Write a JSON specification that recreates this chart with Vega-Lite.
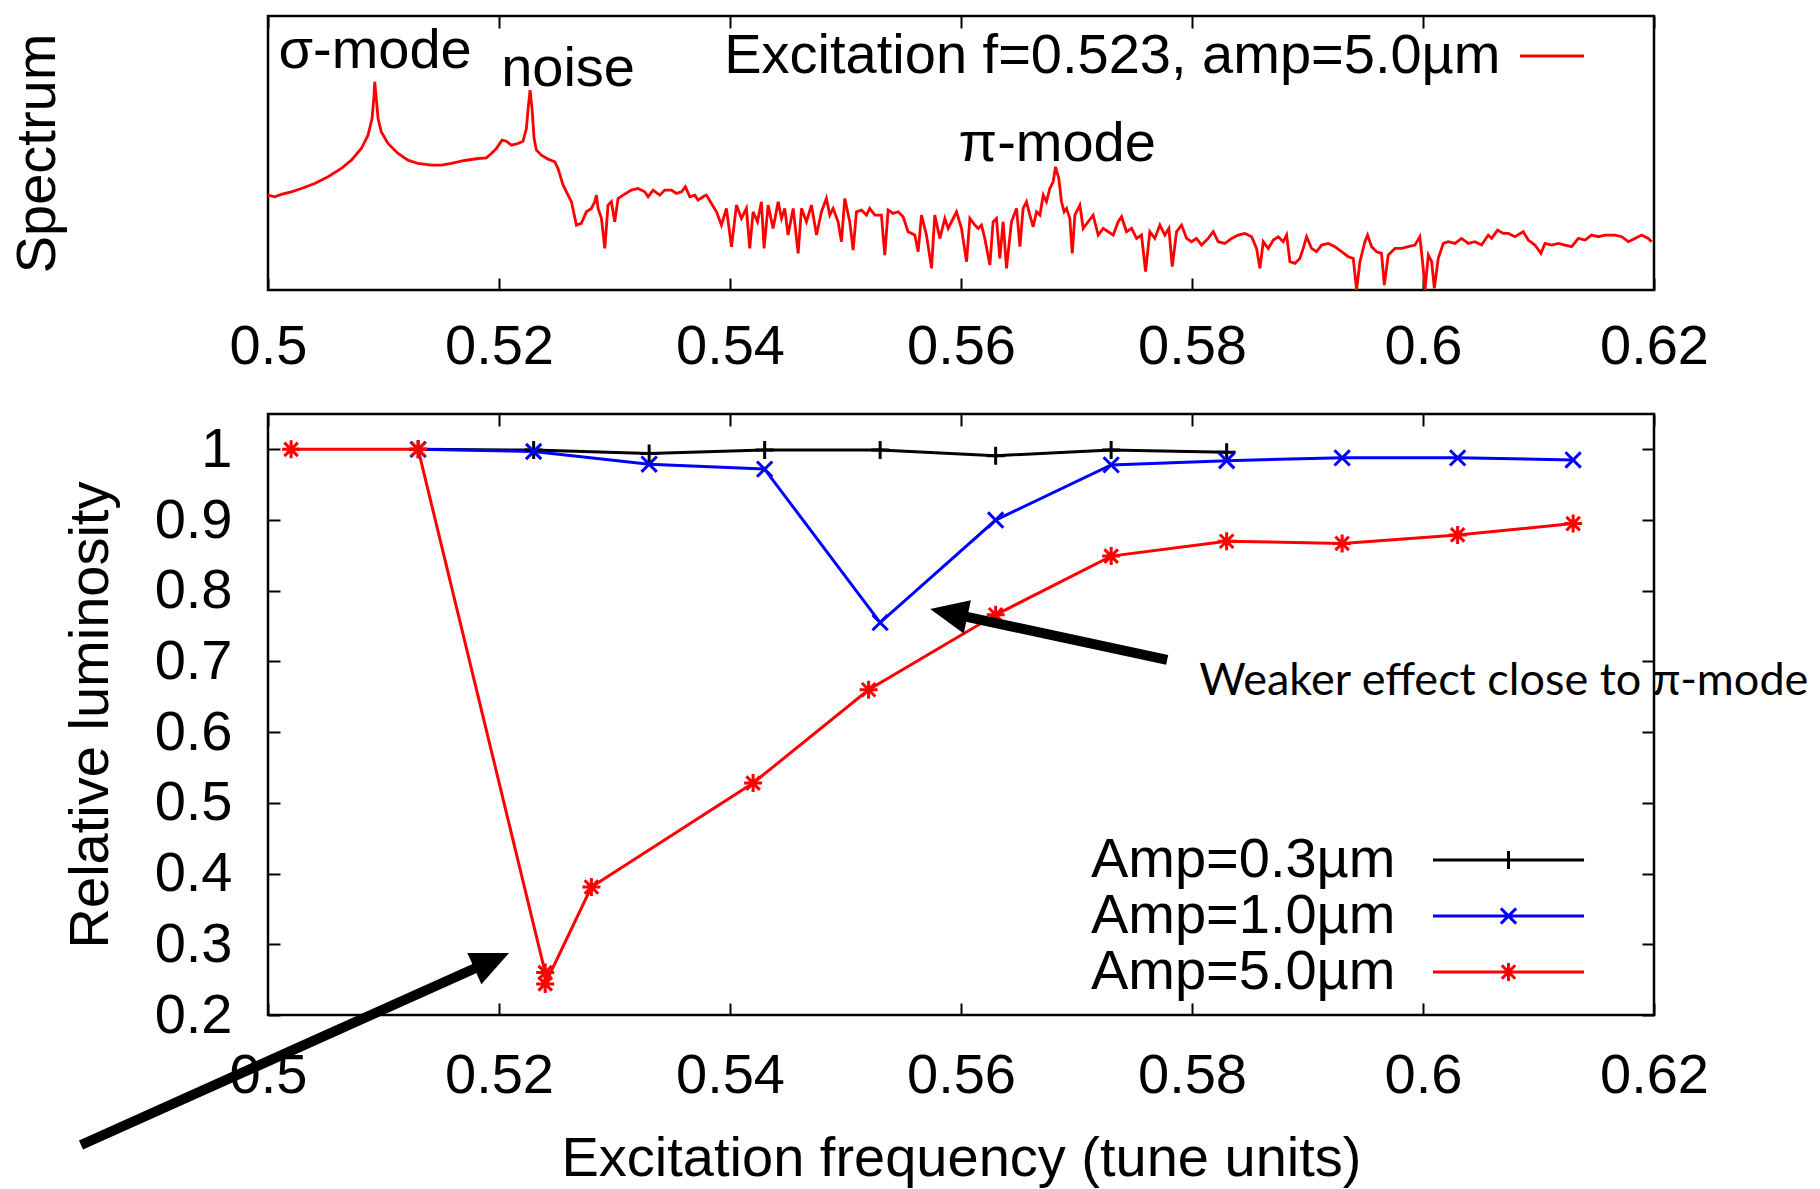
{
  "$schema": "https://vega.github.io/schema/vega-lite/v6.json",
  "background": "white",
  "padding": {"left": 7, "top": 13, "right": 5, "bottom": 5},
  "config": {
    "font": "Liberation Sans",
    "view": {"stroke": "#000", "strokeWidth": 2.5},
    "axis": {
      "labelFont": "Liberation Sans", "labelFontSize": 56, "labelColor": "#000",
      "titleFont": "Liberation Sans", "titleFontSize": 56, "titleColor": "#000", "titleFontWeight": "normal",
      "tickColor": "#000", "tickWidth": 2, "domain": false, "grid": false
    },
    "legend": {"labelFont": "Liberation Sans", "labelFontSize": 56, "labelColor": "#000"},
    "text": {"font": "Liberation Sans"}
  },
  "datasets": {
    "spectrum": [
      {"f":0.5,"p":285},{"f":0.50058,"p":280},{"f":0.50115,"p":287},{"f":0.50202,"p":295},{"f":0.50289,"p":305},{"f":0.50404,"p":320},{"f":0.5052,"p":340},{"f":0.50635,"p":365},{"f":0.50722,"p":390},{"f":0.50808,"p":425},{"f":0.50866,"p":465},{"f":0.50901,"p":515},{"f":0.50918,"p":585},{"f":0.50924,"p":625},{"f":0.50935,"p":585},{"f":0.50953,"p":515},{"f":0.50981,"p":475},{"f":0.51039,"p":440},{"f":0.51126,"p":410},{"f":0.51212,"p":390},{"f":0.51299,"p":380},{"f":0.51414,"p":375},{"f":0.51501,"p":375},{"f":0.51588,"p":380},{"f":0.51703,"p":389},{"f":0.51819,"p":395},{"f":0.51891,"p":397},{"f":0.51934,"p":410},{"f":0.51977,"p":425},{"f":0.52026,"p":450},{"f":0.52064,"p":447},{"f":0.52107,"p":435},{"f":0.52165,"p":440},{"f":0.52208,"p":447},{"f":0.52237,"p":485},{"f":0.52252,"p":545},{"f":0.52269,"p":600},{"f":0.52286,"p":545},{"f":0.52304,"p":455},{"f":0.52324,"p":420},{"f":0.52367,"p":405},{"f":0.52425,"p":393},{"f":0.52483,"p":385},{"f":0.52511,"p":365},{"f":0.52555,"p":315},{"f":0.52598,"p":285},{"f":0.52627,"p":265},{"f":0.5267,"p":195},{"f":0.52713,"p":200},{"f":0.52757,"p":235},{"f":0.528,"p":245},{"f":0.52829,"p":265},{"f":0.52843,"p":285},{"f":0.52858,"p":245},{"f":0.52887,"p":215},{"f":0.52916,"p":125},{"f":0.52944,"p":255},{"f":0.52973,"p":265},{"f":0.53002,"p":205},{"f":0.53031,"p":275},{"f":0.53074,"p":285},
      {"f":0.53146,"p":300},{"f":0.53204,"p":305},{"f":0.53262,"p":295},{"f":0.53291,"p":280},{"f":0.53334,"p":300},{"f":0.53392,"p":285},{"f":0.53435,"p":300},{"f":0.53493,"p":300},{"f":0.53536,"p":290},{"f":0.5358,"p":295},{"f":0.53614,"p":310},{"f":0.53652,"p":280},{"f":0.53695,"p":285},{"f":0.53724,"p":270},{"f":0.53767,"p":280},{"f":0.53796,"p":285},{"f":0.53839,"p":260},{"f":0.53883,"p":235},{"f":0.53926,"p":195},{"f":0.53969,"p":245},{"f":0.54013,"p":130},{"f":0.54056,"p":255},{"f":0.54099,"p":215},{"f":0.54142,"p":245},{"f":0.54171,"p":125},{"f":0.542,"p":235},{"f":0.54238,"p":205},{"f":0.54272,"p":265},{"f":0.54295,"p":125},{"f":0.5433,"p":255},{"f":0.54373,"p":185},{"f":0.54417,"p":265},{"f":0.54446,"p":215},{"f":0.54474,"p":245},{"f":0.54503,"p":165},{"f":0.54547,"p":245},{"f":0.5459,"p":110},{"f":0.54619,"p":245},{"f":0.54662,"p":205},{"f":0.54705,"p":255},{"f":0.54749,"p":165},{"f":0.54792,"p":235},{"f":0.54835,"p":275},{"f":0.54864,"p":225},{"f":0.54893,"p":245},{"f":0.54936,"p":205},{"f":0.54965,"p":145},{"f":0.54994,"p":275},{"f":0.55037,"p":205},{"f":0.55066,"p":120},{"f":0.55095,"p":235},{"f":0.55138,"p":240},{"f":0.55182,"p":225},{"f":0.5521,"p":245},{"f":0.55254,"p":225},{"f":0.55311,"p":225},{"f":0.5534,"p":105},{"f":0.55369,"p":240},{"f":0.55413,"p":230},{"f":0.55456,"p":235},{"f":0.55499,"p":220},{"f":0.55542,"p":175},{"f":0.556,"p":165},{"f":0.55629,"p":115},{"f":0.55658,"p":225},{"f":0.55701,"p":165},{"f":0.55745,"p":65},{"f":0.55773,"p":225},{"f":0.55817,"p":155},{"f":0.5586,"p":215},{"f":0.55889,"p":185},{"f":0.55918,"p":205},{"f":0.55961,"p":235},{"f":0.56004,"p":185},{"f":0.56048,"p":85},{"f":0.56077,"p":215},{"f":0.5612,"p":195},
      {"f":0.56149,"p":185},{"f":0.56177,"p":195},{"f":0.56206,"p":155},{"f":0.5625,"p":75},{"f":0.56278,"p":205},{"f":0.56307,"p":215},{"f":0.56336,"p":95},{"f":0.56365,"p":205},{"f":0.56394,"p":65},{"f":0.56437,"p":205},{"f":0.56481,"p":245},{"f":0.5651,"p":130},{"f":0.56538,"p":245},{"f":0.56567,"p":265},{"f":0.56596,"p":225},{"f":0.56625,"p":190},{"f":0.56654,"p":235},{"f":0.56683,"p":225},{"f":0.56712,"p":285},{"f":0.5674,"p":265},{"f":0.56769,"p":305},{"f":0.56798,"p":325},{"f":0.56818,"p":370},{"f":0.56847,"p":335},{"f":0.5687,"p":265},{"f":0.56893,"p":235},{"f":0.56914,"p":245},{"f":0.56942,"p":215},{"f":0.56963,"p":110},{"f":0.56986,"p":225},{"f":0.57029,"p":255},{"f":0.57058,"p":185},{"f":0.57101,"p":205},{"f":0.57144,"p":225},{"f":0.57188,"p":165},{"f":0.57231,"p":185},{"f":0.57274,"p":175},{"f":0.57318,"p":165},{"f":0.57361,"p":205},{"f":0.5739,"p":220},{"f":0.57433,"p":175},{"f":0.57477,"p":185},{"f":0.5752,"p":155},{"f":0.57563,"p":165},{"f":0.57598,"p":55},{"f":0.57635,"p":175},{"f":0.57678,"p":155},{"f":0.57722,"p":195},{"f":0.57765,"p":165},{"f":0.578,"p":185},{"f":0.57829,"p":70},{"f":0.57866,"p":175},{"f":0.5791,"p":195},{"f":0.57953,"p":155},{"f":0.57996,"p":145},{"f":0.58039,"p":155},{"f":0.58083,"p":135},{"f":0.5814,"p":155},{"f":0.58184,"p":175},{"f":0.58227,"p":145},{"f":0.58285,"p":140},{"f":0.58343,"p":155},{"f":0.584,"p":165},{"f":0.58458,"p":170},{"f":0.58516,"p":160},{"f":0.58559,"p":125},{"f":0.58588,"p":65},{"f":0.58617,"p":145},{"f":0.5866,"p":125},{"f":0.58704,"p":150},{"f":0.58747,"p":160},{"f":0.5879,"p":145},{"f":0.58819,"p":165},{"f":0.58848,"p":85},{"f":0.58891,"p":80},{"f":0.58934,"p":95},{"f":0.58963,"p":125},{"f":0.58992,"p":160},{"f":0.59035,"p":125},{"f":0.59078,"p":115},{"f":0.59122,"p":135},
      {"f":0.5918,"p":140},{"f":0.59237,"p":130},{"f":0.59295,"p":115},{"f":0.59353,"p":100},{"f":0.59396,"p":95},{"f":0.59425,"p":0},{"f":0.59454,"p":85},{"f":0.59497,"p":145},{"f":0.5952,"p":165},{"f":0.59555,"p":130},{"f":0.59598,"p":115},{"f":0.59641,"p":110},{"f":0.59665,"p":15},{"f":0.59699,"p":105},{"f":0.59757,"p":125},{"f":0.59815,"p":125},{"f":0.59872,"p":130},{"f":0.5993,"p":135},{"f":0.59973,"p":160},{"f":0.60002,"p":65},{"f":0.60017,"p":0},{"f":0.60046,"p":105},{"f":0.60075,"p":85},{"f":0.60098,"p":5},{"f":0.60132,"p":95},{"f":0.60176,"p":140},{"f":0.60219,"p":145},{"f":0.60277,"p":140},{"f":0.60334,"p":155},{"f":0.60392,"p":140},{"f":0.6045,"p":145},{"f":0.60507,"p":135},{"f":0.60565,"p":165},{"f":0.60594,"p":155},{"f":0.60646,"p":180},{"f":0.60695,"p":170},{"f":0.60739,"p":170},{"f":0.60796,"p":160},{"f":0.60868,"p":175},{"f":0.60912,"p":150},{"f":0.60969,"p":135},{"f":0.61021,"p":110},{"f":0.61056,"p":140},{"f":0.61114,"p":135},{"f":0.61172,"p":140},{"f":0.61229,"p":135},{"f":0.61287,"p":130},{"f":0.61345,"p":155},{"f":0.61403,"p":150},{"f":0.6146,"p":165},{"f":0.61518,"p":160},{"f":0.61576,"p":165},{"f":0.61662,"p":165},{"f":0.6172,"p":160},{"f":0.61778,"p":145},{"f":0.61835,"p":155},{"f":0.61893,"p":165},{"f":0.61951,"p":155},{"f":0.6198,"p":145}
    ],
    "toplabels": [
      {"label": "σ-mode", "f": 0.50927, "p": 667},
      {"label": "noise", "f": 0.52598, "p": 613},
      {"label": "π-mode", "f": 0.56833, "p": 387}
    ],
    "lum": [
      {"series": "Amp=0.3µm", "order": 1, "f": 0.513, "lum": 1.0},
      {"series": "Amp=0.3µm", "order": 2, "f": 0.523, "lum": 0.999},
      {"series": "Amp=0.3µm", "order": 3, "f": 0.533, "lum": 0.994},
      {"series": "Amp=0.3µm", "order": 4, "f": 0.543, "lum": 0.999},
      {"series": "Amp=0.3µm", "order": 5, "f": 0.553, "lum": 0.999},
      {"series": "Amp=0.3µm", "order": 6, "f": 0.563, "lum": 0.991},
      {"series": "Amp=0.3µm", "order": 7, "f": 0.573, "lum": 0.999},
      {"series": "Amp=0.3µm", "order": 8, "f": 0.583, "lum": 0.996},
      {"series": "Amp=1.0µm", "order": 1, "f": 0.513, "lum": 1.0},
      {"series": "Amp=1.0µm", "order": 2, "f": 0.523, "lum": 0.997},
      {"series": "Amp=1.0µm", "order": 3, "f": 0.533, "lum": 0.979},
      {"series": "Amp=1.0µm", "order": 4, "f": 0.543, "lum": 0.972},
      {"series": "Amp=1.0µm", "order": 5, "f": 0.553, "lum": 0.755},
      {"series": "Amp=1.0µm", "order": 6, "f": 0.563, "lum": 0.9},
      {"series": "Amp=1.0µm", "order": 7, "f": 0.573, "lum": 0.978},
      {"series": "Amp=1.0µm", "order": 8, "f": 0.583, "lum": 0.984},
      {"series": "Amp=1.0µm", "order": 9, "f": 0.593, "lum": 0.988},
      {"series": "Amp=1.0µm", "order": 10, "f": 0.603, "lum": 0.988},
      {"series": "Amp=1.0µm", "order": 11, "f": 0.613, "lum": 0.985},
      {"series": "Amp=5.0µm", "order": 1, "f": 0.502, "lum": 1.0},
      {"series": "Amp=5.0µm", "order": 2, "f": 0.513, "lum": 1.0},
      {"series": "Amp=5.0µm", "order": 3, "f": 0.524, "lum": 0.26},
      {"series": "Amp=5.0µm", "order": 4, "f": 0.524, "lum": 0.244},
      {"series": "Amp=5.0µm", "order": 5, "f": 0.528, "lum": 0.381},
      {"series": "Amp=5.0µm", "order": 6, "f": 0.542, "lum": 0.528},
      {"series": "Amp=5.0µm", "order": 7, "f": 0.552, "lum": 0.66},
      {"series": "Amp=5.0µm", "order": 8, "f": 0.563, "lum": 0.766},
      {"series": "Amp=5.0µm", "order": 9, "f": 0.573, "lum": 0.849},
      {"series": "Amp=5.0µm", "order": 10, "f": 0.583, "lum": 0.87},
      {"series": "Amp=5.0µm", "order": 11, "f": 0.593, "lum": 0.867},
      {"series": "Amp=5.0µm", "order": 12, "f": 0.603, "lum": 0.879},
      {"series": "Amp=5.0µm", "order": 13, "f": 0.613, "lum": 0.895}
    ],
    "arrows": [
      {"x0": 0.57785, "y0": 0.7021, "x1": 0.5597, "y1": 0.7659, "hx": 0.55733, "hy": 0.7743, "dir": 192.1},
      {"x0": 0.48381, "y0": 0.01612, "x1": 0.51866, "y1": 0.27143, "hx": 0.52087, "hy": 0.2877, "dir": 335.8}
    ],
    "note": [
      {"label": "Weaker effect close to π-mode", "f": 0.58062, "lum": 0.6526}
    ]
  },
  "spacing": 124,
  "bounds": "flush",
  "resolve": {"scale": {"color": "independent"}, "legend": {"color": "independent"}},
  "vconcat": [
    {
      "width": 1386,
      "height": 274,
      "layer": [
        {
          "data": {"name": "spectrum"},
          "mark": {"type": "line", "strokeWidth": 2.8, "clip": true},
          "encoding": {
            "x": {"field": "f", "type": "quantitative", "scale": {"domain": [0.5, 0.62], "nice": false, "zero": false},
                  "axis": {"orient": "bottom", "values": [0.5, 0.52, 0.54, 0.56, 0.58, 0.6, 0.62], "format": "~g", "labelFlush": false, "tickSize": -12, "labelPadding": 41, "title": null}},
            "y": {"field": "p", "type": "quantitative", "scale": {"domain": [0, 823], "nice": false, "zero": false},
                  "axis": {"orient": "left", "ticks": false, "labels": false, "title": "Spectrum", "titleX": -202, "titleY": 137, "titleAngle": 270, "titleBaseline": "bottom", "titleAlign": "center"}},
            "color": {"datum": "Excitation f=0.523, amp=5.0µm", "type": "nominal", "scale": {"range": ["#ff0000"]},
                      "legend": {"orient": "none", "legendX": 1256, "legendY": 12, "title": null, "padding": 0, "offset": 0, "symbolType": "M-4.57,0L4.57,0", "symbolSize": 196, "symbolStrokeWidth": 3, "labelFontSize": 56, "labelAlign": "right", "labelOffset": -79.5, "labelLimit": 0, "rowPadding": 0}}
          }
        },
        {
          "data": {"name": "toplabels"},
          "mark": {"type": "text", "fontSize": 56, "baseline": "alphabetic", "align": "center", "color": "#000"},
          "encoding": {
            "x": {"field": "f", "type": "quantitative", "scale": {"domain": [0.5, 0.62], "nice": false, "zero": false},
                  "axis": {"orient": "top", "values": [0.5, 0.52, 0.54, 0.56, 0.58, 0.6, 0.62], "labels": false, "tickSize": -12, "title": null}},
            "y": {"field": "p", "type": "quantitative", "scale": {"domain": [0, 823], "nice": false, "zero": false}, "axis": null},
            "text": {"field": "label"}
          }
        }
      ],
      "resolve": {"axis": {"x": "independent", "y": "independent"}}
    },
    {
      "width": 1386,
      "height": 601,
      "layer": [
        {
          "data": {"name": "lum"},
          "mark": {"type": "line", "strokeWidth": 3},
          "encoding": {
            "x": {"field": "f", "type": "quantitative", "scale": {"domain": [0.5, 0.62], "nice": false, "zero": false},
                  "axis": {"orient": "bottom", "values": [0.5, 0.52, 0.54, 0.56, 0.58, 0.6, 0.62], "format": "~g", "labelFlush": false, "tickSize": -12, "labelPadding": 45.5,
                           "title": "Excitation frequency (tune units)", "titleX": 693, "titleY": 116.5, "titleBaseline": "top", "titleAlign": "center"}},
            "y": {"field": "lum", "type": "quantitative", "scale": {"domain": [0.2, 1.05], "nice": false, "zero": false},
                  "axis": {"orient": "left", "values": [0.2, 0.3, 0.4, 0.5, 0.6, 0.7, 0.8, 0.9, 1.0], "format": "~g", "tickSize": -12, "labelPadding": 48,
                           "title": "Relative luminosity", "titleX": -149, "titleY": 300.5, "titleAngle": 270, "titleBaseline": "bottom", "titleAlign": "center"}},
            "color": {"field": "series", "type": "nominal",
                      "scale": {"domain": ["Amp=0.3µm", "Amp=1.0µm", "Amp=5.0µm"], "range": ["#000000", "#0000ff", "#ff0000"]},
                      "legend": {"orient": "none", "legendX": 1212.5, "legendY": 418, "title": null, "padding": 0, "offset": 0, "symbolSize": 196, "symbolStrokeWidth": 3, "labelFontSize": 56, "labelAlign": "right", "labelOffset": -141, "labelLimit": 0, "rowPadding": 0,
                                 "encode": {"symbols": {"update": {
                                   "shape": {"signal": "datum.value === 'Amp=0.3µm' ? 'M-10.79,0L10.79,0M0,-1.29L0,1.29' : datum.value === 'Amp=1.0µm' ? 'M-10.79,0L10.79,0M-1.09,-1.09L1.09,1.09M-1.09,1.09L1.09,-1.09' : 'M-10.79,0L10.79,0M0,-1.29L0,1.29M-0.96,-0.96L0.96,0.96M-0.96,0.96L0.96,-0.96'"},
                                   "fill": {"value": "transparent"}}}}}},
            "order": {"field": "order", "type": "quantitative"}
          }
        },
        {
          "data": {"name": "lum"},
          "mark": {"type": "point", "filled": false, "strokeWidth": 3, "size": 324, "opacity": 1},
          "encoding": {
            "x": {"field": "f", "type": "quantitative", "scale": {"domain": [0.5, 0.62], "nice": false, "zero": false}, "axis": null},
            "y": {"field": "lum", "type": "quantitative", "scale": {"domain": [0.2, 1.05], "nice": false, "zero": false}, "axis": null},
            "color": {"field": "series", "type": "nominal"},
            "shape": {"field": "series", "type": "nominal",
                      "scale": {"domain": ["Amp=0.3µm", "Amp=1.0µm", "Amp=5.0µm"],
                                "range": ["M-1,0L1,0M0,-1L0,1", "M-0.85,-0.85L0.85,0.85M-0.85,0.85L0.85,-0.85", "M-1,0L1,0M0,-1L0,1M-0.75,-0.75L0.75,0.75M-0.75,0.75L0.75,-0.75"]},
                      "legend": null}
          }
        },
        {
          "data": {"name": "arrows"},
          "mark": {"type": "rule", "strokeWidth": 10, "color": "#000", "strokeCap": "butt"},
          "encoding": {
            "x": {"field": "x0", "type": "quantitative", "scale": {"domain": [0.5, 0.62], "nice": false, "zero": false},
                  "axis": {"orient": "top", "values": [0.5, 0.52, 0.54, 0.56, 0.58, 0.6, 0.62], "labels": false, "tickSize": -12, "title": null}},
            "y": {"field": "y0", "type": "quantitative", "scale": {"domain": [0.2, 1.05], "nice": false, "zero": false},
                  "axis": {"orient": "right", "values": [0.2, 0.3, 0.4, 0.5, 0.6, 0.7, 0.8, 0.9, 1.0], "labels": false, "tickSize": -12, "title": null}},
            "x2": {"field": "x1"},
            "y2": {"field": "y1"}
          }
        },
        {
          "data": {"name": "arrows"},
          "mark": {"type": "point", "shape": "M0,0L-2,-0.9L-2,0.9Z", "filled": true, "color": "#000", "size": 1444, "opacity": 1, "strokeWidth": 0},
          "encoding": {
            "x": {"field": "hx", "type": "quantitative", "scale": {"domain": [0.5, 0.62], "nice": false, "zero": false}, "axis": null},
            "y": {"field": "hy", "type": "quantitative", "scale": {"domain": [0.2, 1.05], "nice": false, "zero": false}, "axis": null},
            "angle": {"field": "dir", "type": "quantitative", "scale": null}
          }
        },
        {
          "data": {"name": "note"},
          "mark": {"type": "text", "font": "Lato", "fontSize": 45, "align": "left", "baseline": "alphabetic", "color": "#000"},
          "encoding": {
            "x": {"field": "f", "type": "quantitative", "scale": {"domain": [0.5, 0.62], "nice": false, "zero": false}, "axis": null},
            "y": {"field": "lum", "type": "quantitative", "scale": {"domain": [0.2, 1.05], "nice": false, "zero": false}, "axis": null},
            "text": {"field": "label"}
          }
        }
      ],
      "resolve": {"axis": {"x": "independent", "y": "independent"}}
    }
  ]
}
